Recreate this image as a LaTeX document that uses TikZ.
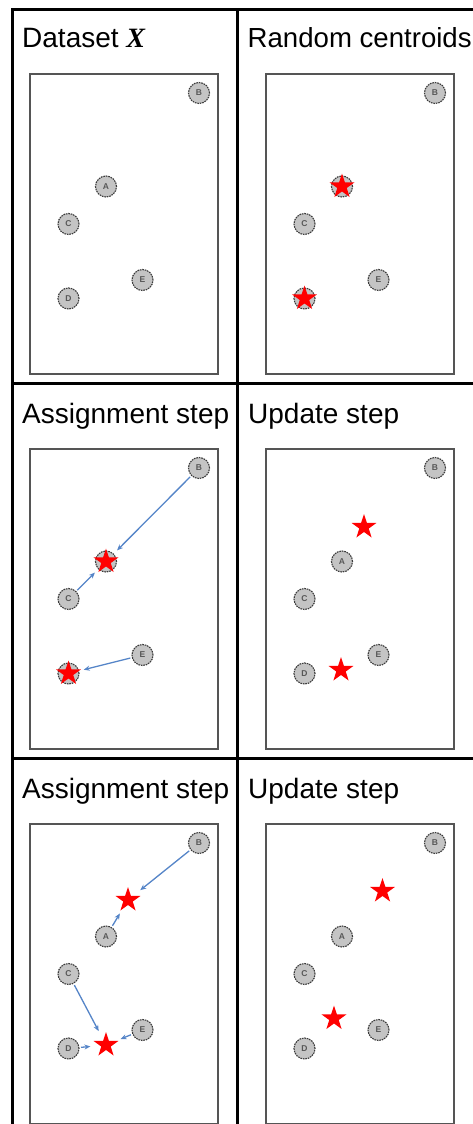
\documentclass[tikz,border=0pt]{standalone}
\usepackage{fontspec}
\setmainfont{Liberation Sans}
\newfontfamily\mathserif{Liberation Serif}
\usetikzlibrary{shapes.geometric,arrows.meta}

\definecolor{pointfill}{HTML}{C4C4C4}
\definecolor{pointline}{HTML}{3A3A3A}
\definecolor{arrowblue}{HTML}{5585C8}
\definecolor{framegray}{HTML}{555555}

\tikzset{
  grid line/.style={line width=3pt, black},
  panel/.style={draw=framegray, line width=1.4pt, fill=white},
  point/.style={circle, fill=pointfill, draw=pointline, dash pattern=on 1.6pt off 0.9pt,
    line width=1.1pt, minimum size=21pt, inner sep=0pt,
    font=\fontsize{8.5}{8.5}\selectfont\bfseries, text=pointline!85},
  % a red star, with a round border so that arrows stop a little short of it
  centroid/.style={circle, minimum size=28pt, inner sep=0pt, draw=none,
    path picture={\node[star, star points=5, star point ratio=2.618, fill=red,
      draw=none, minimum size=26pt, inner sep=0pt] at (path picture bounding box.center) {};}},
  move/.style={-{Stealth[length=6pt,width=5pt]}, arrowblue, line width=1.3pt,
    shorten >=1.5pt, shorten <=1.5pt},
  title/.style={anchor=base west, font=\fontsize{28}{30}\selectfont, inner sep=0pt},
}

% the five data points of a panel, names prefixed by #1
\newcommand{\datapoints}[1]{%
  \node[point] (#1B) at (169,19) {B};
  \node[point] (#1A) at (76,112.5) {A};
  \node[point] (#1C) at (38.5,150) {C};
  \node[point] (#1E) at (112.5,206) {E};
  \node[point] (#1D) at (38.5,224.5) {D};
}

\begin{document}
\begin{tikzpicture}[x=1pt, y=-1pt]
  \useasboundingbox (0,0) rectangle (473,1124);

  % table rules
  \draw[grid line] (12,1126) -- (12,10) -- (475,10);
  \draw[grid line] (237.5,10) -- (237.5,1126);
  \draw[grid line] (12,383) -- (475,383);
  \draw[grid line] (12,758) -- (475,758);

  % cell titles
  \node[title] (t1) at (22,48) {Dataset {\mathserif\bfseries\itshape X}};
  \node[title, font=\fontsize{27.6}{30}\selectfont] (t2) at (247.5,48) {Random centroids};
  \node[title] (t3) at (22,423) {Assignment step};
  \node[title] (t4) at (248,423) {Update step};
  \node[title] (t5) at (22,798) {Assignment step};
  \node[title] (t6) at (248,798) {Update step};

  % panel 1: the data set
  \begin{scope}[shift={(30,74)}]
    \draw[panel] (0,0) rectangle (188,300);
    \datapoints{a}
  \end{scope}

  % panel 2: initial centroids on A and D
  \begin{scope}[shift={(266,74)}]
    \draw[panel] (0,0) rectangle (188,300);
    \datapoints{b}
    \node[centroid] (bk1) at (bA) {};
    \node[centroid] (bk2) at (bD) {};
  \end{scope}

  % panel 3: first assignment
  \begin{scope}[shift={(30,449)}]
    \draw[panel] (0,0) rectangle (188,300);
    \datapoints{c}
    \node[centroid] (ck1) at (cA) {};
    \node[centroid] (ck2) at (cD) {};
    \draw[move] (cB) -- (ck1);
    \draw[move] (cC) -- (ck1);
    \draw[move] (cE) -- (ck2);
  \end{scope}

  % panel 4: first update
  \begin{scope}[shift={(266,449)}]
    \draw[panel] (0,0) rectangle (188,300);
    \datapoints{d}
    \node[centroid] (dk1) at (98,78) {};
    \node[centroid] (dk2) at (75,221) {};
  \end{scope}

  % panel 5: second assignment
  \begin{scope}[shift={(30,824)}]
    \draw[panel] (0,0) rectangle (188,300);
    \datapoints{e}
    \node[centroid] (ek1) at (98,76) {};
    \node[centroid] (ek2) at (76,221) {};
    \draw[move] (eB) -- (ek1);
    \draw[move] (eA) -- (ek1);
    \draw[move] (eC) -- (ek2);
    \draw[move] (eE) -- (ek2);
    \draw[move] (eD) -- (ek2);
  \end{scope}

  % panel 6: second update
  \begin{scope}[shift={(266,824)}]
    \draw[panel] (0,0) rectangle (188,300);
    \datapoints{f}
    \node[centroid] (fk1) at (116.5,67) {};
    \node[centroid] (fk2) at (68,194.5) {};
  \end{scope}
\end{tikzpicture}
\end{document}
